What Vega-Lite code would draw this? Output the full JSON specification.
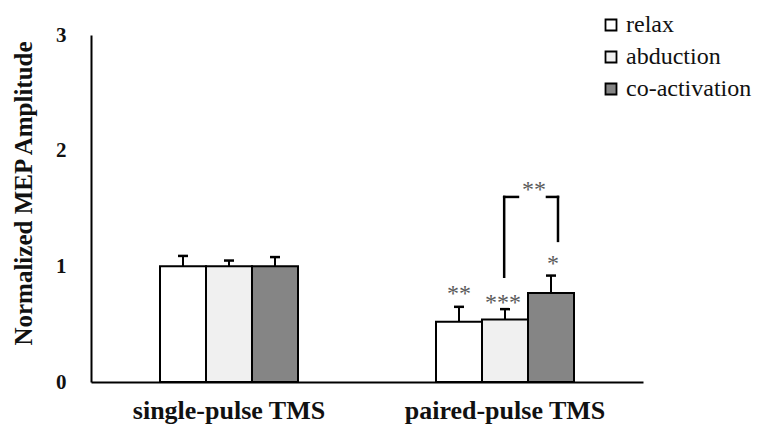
{
  "$schema": "https://vega.github.io/schema/vega-lite/v6.json",
  "autosize": "none",
  "width": 552,
  "height": 347,
  "padding": {"left": 91, "top": 35, "right": 126, "bottom": 47},
  "background": "white",
  "config": {
    "font": "Liberation Serif",
    "view": {"stroke": null},
    "axis": {"grid": false, "ticks": false, "domainColor": "black", "domainWidth": 2, "labelColor": "#111", "titleColor": "#111"},
    "legend": {"labelFont": "Liberation Serif", "labelFontSize": 24, "labelColor": "#111"}
  },
  "datasets": {
    "bars": [
      {"group": "single-pulse TMS", "condition": "relax", "value": 1.0, "upper": 1.09},
      {"group": "single-pulse TMS", "condition": "abduction", "value": 1.0, "upper": 1.05},
      {"group": "single-pulse TMS", "condition": "co-activation", "value": 1.0, "upper": 1.08},
      {"group": "paired-pulse TMS", "condition": "relax", "value": 0.52, "upper": 0.65},
      {"group": "paired-pulse TMS", "condition": "abduction", "value": 0.54, "upper": 0.63},
      {"group": "paired-pulse TMS", "condition": "co-activation", "value": 0.77, "upper": 0.92}
    ],
    "stars": [
      {"pos": 1.333, "level": 0.80, "label": "**"},
      {"pos": 1.493, "level": 0.73, "label": "***"},
      {"pos": 1.674, "level": 1.06, "label": "*"},
      {"pos": 1.605, "level": 1.70, "label": "**"}
    ],
    "bracket": [
      {"pos": 1.497, "pos2": 1.497, "level": 0.91, "level2": 1.60},
      {"pos": 1.497, "pos2": 1.547, "level": 1.60, "level2": 1.60},
      {"pos": 1.652, "pos2": 1.692, "level": 1.60, "level2": 1.60},
      {"pos": 1.692, "pos2": 1.692, "level": 1.60, "level2": 1.22}
    ]
  },
  "resolve": {"scale": {"x": "independent"}},
  "layer": [
    {
      "data": {"name": "bars"},
      "layer": [
        {
          "mark": {"type": "rule", "stroke": "black", "strokeWidth": 2},
          "encoding": {
            "x": {"field": "group", "type": "nominal", "sort": ["single-pulse TMS", "paired-pulse TMS"]},
            "xOffset": {"field": "condition", "type": "nominal", "sort": ["relax", "abduction", "co-activation"]},
            "y": {"field": "value", "type": "quantitative"},
            "y2": {"field": "upper"}
          }
        },
        {
          "mark": {"type": "tick", "color": "black", "size": 10, "thickness": 2.5, "opacity": 1},
          "encoding": {
            "x": {"field": "group", "type": "nominal", "sort": ["single-pulse TMS", "paired-pulse TMS"]},
            "xOffset": {"field": "condition", "type": "nominal", "sort": ["relax", "abduction", "co-activation"]},
            "y": {"field": "upper", "type": "quantitative"}
          }
        },
        {
          "mark": {"type": "bar", "stroke": "black", "strokeWidth": 2, "opacity": 1},
          "encoding": {
            "x": {
              "field": "group", "type": "nominal",
              "sort": ["single-pulse TMS", "paired-pulse TMS"],
              "scale": {"paddingInner": 0.5, "paddingOuter": 0.25},
              "axis": {"title": null, "labelAngle": 0, "labelAlign": "center", "labelBaseline": "top", "labelLimit": 400, "labelFont": "Liberation Serif", "labelFontWeight": "bold", "labelFontSize": 26, "labelPadding": 15}
            },
            "xOffset": {"field": "condition", "type": "nominal", "sort": ["relax", "abduction", "co-activation"], "scale": {"paddingInner": 0, "paddingOuter": 0}},
            "y": {
              "field": "value", "type": "quantitative",
              "scale": {"domain": [0, 3]},
              "axis": {
                "title": "Normalized  MEP Amplitude", "values": [0, 1, 2, 3], "format": "d",
                "labelFont": "Liberation Serif", "labelFontWeight": "bold", "labelFontSize": 21, "labelPadding": 25,
                "titleFont": "Liberation Serif", "titleFontWeight": "bold", "titleFontSize": 25,
                "titleX": -68, "titleY": 158, "titleAngle": -90, "titleAlign": "center", "titleBaseline": "middle"
              }
            },
            "fill": {
              "field": "condition", "type": "nominal",
              "scale": {"domain": ["relax", "abduction", "co-activation"], "range": ["#ffffff", "#f0f0f0", "#858585"]},
              "legend": {
                "title": null, "orient": "none", "legendX": 508, "legendY": -22, "padding": 0,
                "symbolType": "square", "symbolSize": 121, "symbolStrokeColor": "black", "symbolStrokeWidth": 1.8,
                "labelFont": "Liberation Serif", "labelFontSize": 24, "labelColor": "#111", "labelOffset": 3,
                "labelLimit": 300, "rowPadding": 8
              }
            }
          }
        }
      ]
    },
    {
      "data": {"name": "bracket"},
      "mark": {"type": "rule", "stroke": "black", "strokeWidth": 2.5, "strokeCap": "square"},
      "encoding": {
        "x": {"field": "pos", "type": "quantitative", "scale": {"domain": [0, 2], "nice": false, "zero": false}, "axis": null},
        "x2": {"field": "pos2"},
        "y": {"field": "level", "type": "quantitative"},
        "y2": {"field": "level2"}
      }
    },
    {
      "data": {"name": "stars"},
      "mark": {"type": "text", "font": "Liberation Serif", "fontSize": 24, "color": "#5a5a5a", "baseline": "alphabetic", "align": "center", "dy": 12},
      "encoding": {
        "x": {"field": "pos", "type": "quantitative", "scale": {"domain": [0, 2], "nice": false, "zero": false}, "axis": null},
        "y": {"field": "level", "type": "quantitative"},
        "text": {"field": "label"}
      }
    }
  ]
}
